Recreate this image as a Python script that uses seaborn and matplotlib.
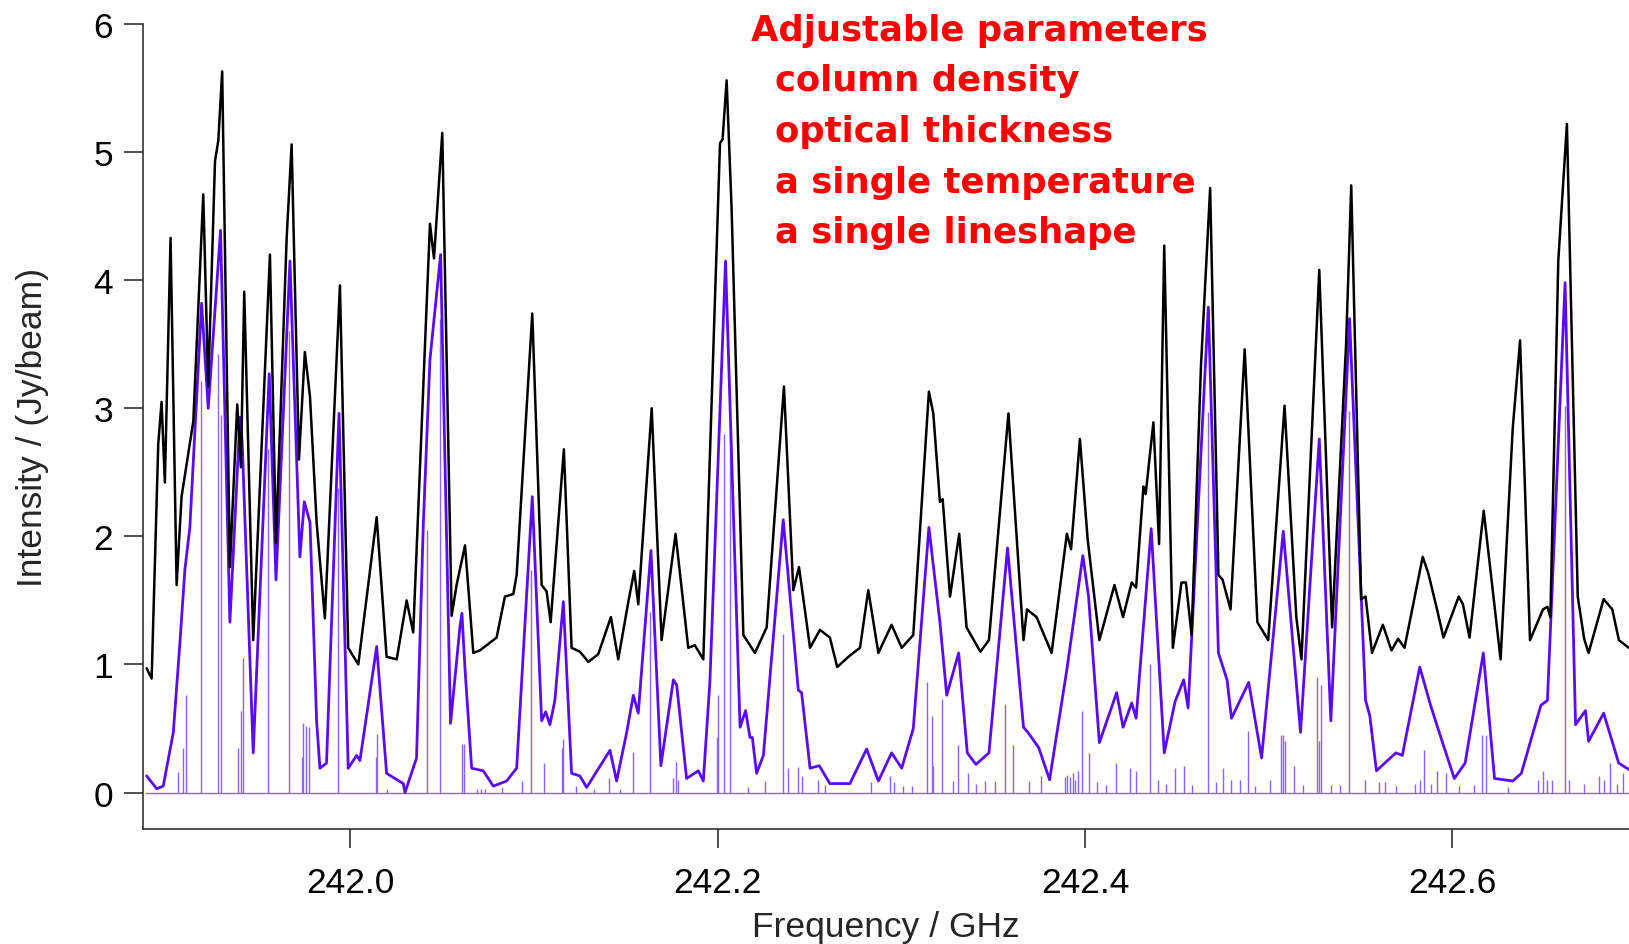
import matplotlib
matplotlib.use("Agg")
import matplotlib.pyplot as plt
import seaborn as sns

# ---------------- data ----------------
# observed spectrum (black trace): frequency [GHz], intensity [Jy/beam]
obs_freq = [241.8892, 241.8919, 241.8955, 241.8973, 241.8991, 241.9022, 241.9055, 241.9082,
            241.9118, 241.9146, 241.9200, 241.9227, 241.9264, 241.9282, 241.9303, 241.9345,
            241.9385, 241.9405, 241.9423, 241.9472, 241.9563, 241.9596, 241.9654, 241.9681,
            241.9721, 241.9753, 241.9781, 241.9817, 241.9862, 241.9944, 241.9989, 242.0044,
            242.0144, 242.0198, 242.0253, 242.0307, 242.0343, 242.0434, 242.0456, 242.0501,
            242.0552, 242.0579, 242.0625, 242.0670, 242.0706, 242.0797, 242.0842, 242.0888,
            242.0906, 242.0991, 242.1042, 242.1069, 242.1091, 242.1163, 242.1205, 242.1250,
            242.1296, 242.1350, 242.1419, 242.1459, 242.1514, 242.1546, 242.1568, 242.1641,
            242.1695, 242.1771, 242.1840, 242.1876, 242.1922, 242.2013, 242.2027, 242.2049,
            242.2076, 242.2140, 242.2203, 242.2267, 242.2361, 242.2412, 242.2443, 242.2503,
            242.2557, 242.2611, 242.2651, 242.2720, 242.2775, 242.2820, 242.2875, 242.2947,
            242.3002, 242.3065, 242.3150, 242.3174, 242.3210, 242.3225, 242.3265, 242.3315,
            242.3355, 242.3430, 242.3477, 242.3583, 242.3665, 242.3684, 242.3736, 242.3771,
            242.3818, 242.3901, 242.3924, 242.3972, 242.4014, 242.4078, 242.4160, 242.4207,
            242.4254, 242.4278, 242.4318, 242.4330, 242.4372, 242.4403, 242.4431, 242.4478,
            242.4525, 242.4549, 242.4580, 242.4631, 242.4681, 242.4726, 242.4749, 242.4792,
            242.4869, 242.4938, 242.4997, 242.5086, 242.5150, 242.5178, 242.5275, 242.5345,
            242.5421, 242.5449, 242.5503, 242.5527, 242.5562, 242.5621, 242.5668, 242.5704,
            242.5739, 242.5838, 242.5869, 242.5916, 242.5951, 242.6034, 242.6057, 242.6093,
            242.6170, 242.6262, 242.6328, 242.6368, 242.6422, 242.6493, 242.6517, 242.6533,
            242.6576, 242.6623, 242.6682, 242.6717, 242.6741, 242.6823, 242.6870, 242.6906,
            242.6960]
obs_int = [0.97, 0.89, 2.72, 3.05, 2.42, 4.33, 1.62, 2.31,
           2.64, 2.90, 4.67, 3.17, 4.93, 5.09, 5.63, 1.76,
           3.03, 2.54, 3.91, 1.19, 4.20, 1.95, 4.33, 5.06,
           2.60, 3.44, 3.09, 2.11, 1.36, 3.96, 1.13, 1.00,
           2.15, 1.06, 1.04, 1.50, 1.25, 4.44, 4.17, 5.15,
           1.38, 1.62, 1.93, 1.09, 1.11, 1.21, 1.53, 1.55,
           1.70, 3.74, 1.62, 1.57, 1.33, 2.68, 1.13, 1.10,
           1.02, 1.08, 1.37, 1.04, 1.49, 1.73, 1.47, 3.00,
           1.19, 2.02, 1.13, 1.15, 1.04, 5.07, 5.10, 5.56,
           4.56, 1.23, 1.09, 1.29, 3.17, 1.58, 1.76, 1.13,
           1.27, 1.21, 0.98, 1.07, 1.13, 1.58, 1.09, 1.31,
           1.13, 1.23, 3.13, 2.96, 2.27, 2.29, 1.53, 2.02,
           1.29, 1.10, 1.19, 2.96, 1.19, 1.43, 1.37, 1.25,
           1.09, 2.02, 1.90, 2.76, 1.98, 1.19, 1.62, 1.37,
           1.64, 1.60, 2.39, 2.33, 2.89, 1.94, 4.27, 1.13,
           1.64, 1.64, 1.23, 3.33, 4.72, 1.70, 1.66, 1.43,
           3.46, 1.33, 1.19, 3.02, 1.37, 1.04, 4.08, 1.29,
           3.50, 4.74, 1.51, 1.53, 1.09, 1.31, 1.11, 1.20,
           1.13, 1.84, 1.71, 1.43, 1.21, 1.53, 1.47, 1.21,
           2.20, 1.04, 2.84, 3.53, 1.19, 1.43, 1.45, 1.37,
           4.15, 5.22, 1.53, 1.20, 1.09, 1.51, 1.43, 1.19,
           1.13]

# model spectrum (purple trace)
mod_freq = [241.8892, 241.8946, 241.8982, 241.9037, 241.9073, 241.9100, 241.9127, 241.9191,
            241.9227, 241.9294, 241.9345, 241.9400, 241.9412, 241.9472, 241.9559, 241.9596,
            241.9672, 241.9726, 241.9750, 241.9781, 241.9817, 241.9835, 241.9871, 241.9939,
            241.9989, 242.0035, 242.0053, 242.0144, 242.0198, 242.0289, 242.0298, 242.0361,
            242.0398, 242.0434, 242.0492, 242.0546, 242.0597, 242.0608, 242.0625, 242.0661,
            242.0724, 242.0779, 242.0851, 242.0906, 242.0991, 242.1042, 242.1064, 242.1087,
            242.1114, 242.1160, 242.1205, 242.1250, 242.1287, 242.1414, 242.1450, 242.1505,
            242.1541, 242.1568, 242.1637, 242.1691, 242.1759, 242.1777, 242.1831, 242.1895,
            242.1922, 242.1958, 242.2043, 242.2122, 242.2152, 242.2176, 242.2189, 242.2212,
            242.2249, 242.2357, 242.2439, 242.2457, 242.2503, 242.2553, 242.2611, 242.2720,
            242.2811, 242.2875, 242.2947, 242.3002, 242.3065, 242.3150, 242.3210, 242.3247,
            242.3312, 242.3359, 242.3406, 242.3477, 242.3578, 242.3665, 242.3689, 242.3748,
            242.3807, 242.3901, 242.3988, 242.4019, 242.4078, 242.4172, 242.4207, 242.4254,
            242.4278, 242.4360, 242.4431, 242.4490, 242.4537, 242.4561, 242.4671, 242.4726,
            242.4773, 242.4797, 242.4891, 242.4961, 242.5079, 242.5173, 242.5275, 242.5338,
            242.5440, 242.5527, 242.5550, 242.5586, 242.5692, 242.5727, 242.5822, 242.5881,
            242.5928, 242.6010, 242.6069, 242.6168, 242.6229, 242.6328, 242.6375, 242.6481,
            242.6517, 242.6613, 242.6670, 242.6724, 242.6741, 242.6823, 242.6905, 242.6960]
mod_int = [0.13, 0.03, 0.05, 0.47, 1.17, 1.74, 2.07, 3.82,
           3.00, 4.39, 1.33, 2.93, 2.73, 0.31, 3.27, 1.66,
           4.15, 1.84, 2.27, 2.11, 0.56, 0.19, 0.23, 2.96,
           0.19, 0.29, 0.25, 1.14, 0.15, 0.07, 0.00, 0.27,
           2.10, 3.38, 4.20, 0.54, 1.29, 1.40, 0.96, 0.19,
           0.17, 0.05, 0.09, 0.19, 2.31, 0.56, 0.63, 0.53,
           0.72, 1.49, 0.15, 0.13, 0.04, 0.33, 0.09, 0.47,
           0.76, 0.62, 1.89, 0.21, 0.88, 0.84, 0.11, 0.17,
           0.09, 0.87, 4.15, 0.51, 0.64, 0.43, 0.43, 0.15,
           0.29, 2.13, 0.80, 0.78, 0.19, 0.21, 0.07, 0.07,
           0.34, 0.09, 0.31, 0.19, 0.50, 2.07, 1.33, 0.76,
           1.09, 0.31, 0.22, 0.31, 1.91, 0.51, 0.47, 0.35,
           0.10, 0.96, 1.85, 1.53, 0.39, 0.78, 0.51, 0.70,
           0.58, 2.06, 0.31, 0.71, 0.88, 0.66, 3.79, 1.09,
           0.88, 0.58, 0.86, 0.27, 2.04, 0.47, 2.76, 0.56,
           3.70, 0.72, 0.60, 0.17, 0.31, 0.29, 0.98, 0.68,
           0.47, 0.11, 0.23, 1.09, 0.11, 0.09, 0.15, 0.68,
           0.72, 3.98, 0.53, 0.64, 0.40, 0.62, 0.23, 0.18]

# stick (line list) spectrum
stick_freq = [241.9065, 241.9091, 241.9104, 241.9186, 241.9282, 241.9294, 241.9391, 241.9403,
              241.9418, 241.9554, 241.9668, 241.9735, 241.9744, 241.9757, 241.9775, 241.9935,
              242.0138, 242.0147, 242.0200, 242.0416, 242.0488, 242.0610, 242.0621, 242.0690,
              242.0712, 242.0733, 242.0825, 242.0933, 242.0984, 242.1056, 242.1154, 242.1160,
              242.1231, 242.1325, 242.1410, 242.1471, 242.1537, 242.1632, 242.1759, 242.1771,
              242.1786, 242.1995, 242.2004, 242.2034, 242.2067, 242.2167, 242.2258, 242.2354,
              242.2385, 242.2436, 242.2461, 242.2548, 242.2584, 242.2833, 242.2938, 242.2962,
              242.3011, 242.3056, 242.3138, 242.3165, 242.3174, 242.3219, 242.3283, 242.3306,
              242.3364, 242.3404, 242.3453, 242.3512, 242.3566, 242.3606, 242.3694, 242.3760,
              242.3889, 242.3901, 242.3920, 242.3936, 242.3948, 242.3960, 242.3983, 242.4019,
              242.4066, 242.4113, 242.4167, 242.4243, 242.4278, 242.4353, 242.4396, 242.4443,
              242.4490, 242.4537, 242.4584, 242.4667, 242.4714, 242.4749, 242.4796, 242.4843,
              242.4886, 242.4926, 242.5008, 242.5067, 242.5079, 242.5091, 242.5138, 242.5185,
              242.5263, 242.5272, 242.5282, 242.5339, 242.5386, 242.5437, 242.5522, 242.5598,
              242.5633, 242.5692, 242.5798, 242.5822, 242.5845, 242.5881, 242.5916, 242.5963,
              242.6034, 242.6116, 242.6159, 242.6182, 242.6305, 242.6465, 242.6493, 242.6517,
              242.6540, 242.6611, 242.6634, 242.6717, 242.6800, 242.6823, 242.6858, 242.6894,
              242.6929]
stick_int = [0.16, 0.35, 0.76, 3.21, 3.42, 2.95, 0.35, 0.64,
             1.05, 2.68, 3.60, 0.28, 0.54, 0.52, 0.51, 2.38,
             0.28, 0.46, 0.03, 2.05, 3.70, 0.38, 0.38, 0.03,
             0.03, 0.03, 0.04, 0.09, 1.74, 0.23, 0.35, 0.42,
             0.05, 0.03, 0.11, 0.03, 0.32, 1.41, 0.11, 0.24,
             0.10, 0.43, 0.76, 2.80, 2.82, 0.04, 0.09, 1.24,
             0.19, 0.20, 0.13, 0.10, 0.06, 0.08, 0.13, 0.08,
             0.05, 0.05, 0.86, 0.60, 0.21, 0.73, 0.09, 0.37,
             0.15, 0.07, 0.09, 0.09, 0.69, 0.37, 0.09, 0.13,
             0.12, 0.14, 0.12, 0.15, 0.10, 0.17, 0.64, 0.31,
             0.08, 0.06, 0.23, 0.19, 0.17, 1.00, 0.10, 0.07,
             0.19, 0.21, 0.06, 2.97, 0.08, 0.19, 0.10, 0.10,
             0.48, 0.05, 0.10, 0.45, 0.45, 0.40, 0.21, 0.06,
             0.90, 0.40, 0.84, 0.06, 0.06, 2.98, 0.10, 0.08,
             0.08, 0.05, 0.07, 0.10, 0.33, 0.07, 0.17, 0.15,
             0.05, 0.06, 0.45, 0.45, 0.04, 0.10, 0.17, 0.10,
             0.10, 3.02, 0.10, 0.07, 0.13, 0.10, 0.23, 0.07,
             0.15]

x_ticks = [242.0, 242.2, 242.4, 242.6]
y_ticks = [0, 1, 2, 3, 4, 5, 6]
x_label = "Frequency / GHz"
y_label = "Intensity / (Jy/beam)"
note_title = "Adjustable parameters"
note_items = ["column density", "optical thickness",
              "a single temperature", "a single lineshape"]

# ---------------- figure ----------------
sns.set_theme(style="white")
plt.rcParams['font.family'] = ['Liberation Sans', 'DejaVu Sans']

W, H = 1629, 945
fig = plt.figure(figsize=(W / 100, H / 100), dpi=100)
ax = fig.add_axes([143 / W, 115 / H, 1 - 143 / W, 805 / H])

model_color = "#5a0aff"
stick_color = "#8c63ff"

ax.hlines(0, 241.8885, 242.6961, color=stick_color, lw=1.0, zorder=1)
ax.vlines(stick_freq, 0, stick_int, color=stick_color, lw=1.0, zorder=1)
sns.lineplot(x=mod_freq, y=mod_int, sort=False, estimator=None,
             color=model_color, lw=2.0, ax=ax, zorder=2,
             solid_joinstyle="round", solid_capstyle="round")
sns.lineplot(x=obs_freq, y=obs_int, sort=False, estimator=None,
             color="black", lw=1.8, ax=ax, zorder=3,
             solid_joinstyle="round", solid_capstyle="round")

ax.set_xlim(241.8872, 242.6961)
ax.set_ylim(-0.2845, 6.0)

for s in ("top", "right"):
    ax.spines[s].set_visible(False)
for s in ("left", "bottom"):
    ax.spines[s].set_linewidth(1.1)
    ax.spines[s].set_color("#222222")

ax.set_xticks(x_ticks)
ax.set_xticklabels([f"{v:.1f}" for v in x_ticks])
ax.set_yticks(y_ticks)
ax.set_yticklabels([str(v) for v in y_ticks])
ax.tick_params(axis="both", which="major", direction="out", length=13.5,
               width=1.1, color="#222222", labelsize=25.5, labelcolor="black",
               bottom=True, left=True)
ax.tick_params(axis="x", pad=13.5)
ax.tick_params(axis="y", pad=8)

ax.set_xlabel(x_label, fontsize=25.5)
ax.set_ylabel(y_label, fontsize=25.5)
ax.xaxis.set_label_coords(0.5, -0.101)
ax.yaxis.set_label_coords(-0.063, 0.5)

note_font = dict(color="red", fontsize=25.5, fontweight="bold",
                 family=["DejaVu Sans"], ha="left", va="baseline")
fig.text(751 / W, 1 - 40.5 / H, note_title, **note_font)
for i, item in enumerate(note_items):
    fig.text(775 / W, 1 - (40.5 + 50.7 * (i + 1)) / H, item, **note_font)

fig.savefig("out.png", dpi=100)
